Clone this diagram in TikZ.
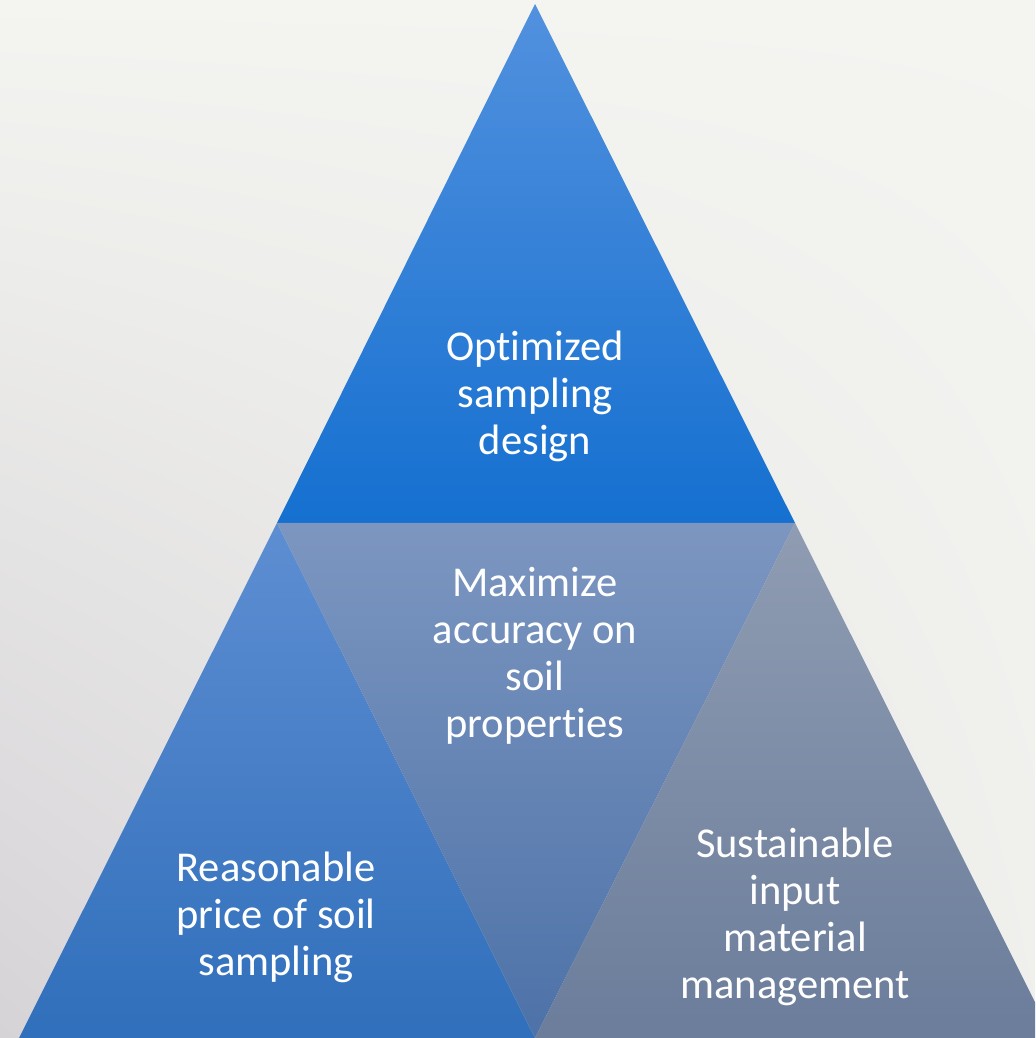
\documentclass[tikz,border=0pt]{standalone}
\usepackage{fontspec}
\setmainfont{Carlito}[Ligatures=NoCommon]
\usepackage{tikz}
\usetikzlibrary{shadings}

\definecolor{bgtop}{HTML}{F4F5F1}
\definecolor{bgbot}{HTML}{D6D3D7}
\definecolor{toptop}{HTML}{5291DE}
\definecolor{topbot}{HTML}{1570D0}
\definecolor{lefttop}{HTML}{5E8ED2}
\definecolor{leftbot}{HTML}{306FBB}
\definecolor{midtop}{HTML}{7C96C0}
\definecolor{midbot}{HTML}{4D72A8}
\definecolor{righttop}{HTML}{8F9CB2}
\definecolor{rightbot}{HTML}{6B7D9B}

\tikzset{
    tritext/.style={text=white, align=center, font=\fontsize{24.2}{26.7}\selectfont}
}

\begin{document}
\begin{tikzpicture}
    \useasboundingbox (0,0) rectangle (20.7,20.76);
        %draw background
    \shade[lower left=bgbot, upper left=bgtop, lower right=bgtop!96!gray, upper right=bgtop]
        (0,0) rectangle (20.7,20.76);

        %corners of the pyramid
    \coordinate (apex) at (10.7,20.68);
    \coordinate (midl) at (5.54,10.3);
    \coordinate (midr) at (15.9,10.3);
    \coordinate (botl) at (0.38,0);
    \coordinate (botm) at (10.7,0);
    \coordinate (botr) at (21.06,0);

    \begin{scope}
        \clip (0,0) rectangle (20.7,20.76);
        %draw top triangle
    \shade[top color=toptop, bottom color=topbot] (apex) -- (midl) -- (midr) -- cycle;
        %draw bottom left triangle
    \shade[top color=lefttop, bottom color=leftbot] (midl) -- (botl) -- (botm) -- cycle;
        %draw middle triangle
    \shade[top color=midtop, bottom color=midbot] (midl) -- (midr) -- (botm) -- cycle;
        %draw bottom right triangle
    \shade[top color=righttop, bottom color=rightbot] (midr) -- (botm) -- (botr) -- cycle;
    \end{scope}

        %draw texts
    \node[tritext] (design) at (10.7,12.84) {Optimized\\sampling\\design};
    \node[tritext] (accuracy) at (10.7,7.64) {Maximize\\accuracy on\\soil\\properties};
    \node[tritext] (price) at (5.52,2.42) {Reasonable\\price of soil\\sampling};
    \node[tritext] (input) at (15.9,2.42) {Sustainable\\input\\material\\management};
\end{tikzpicture}
\end{document}
